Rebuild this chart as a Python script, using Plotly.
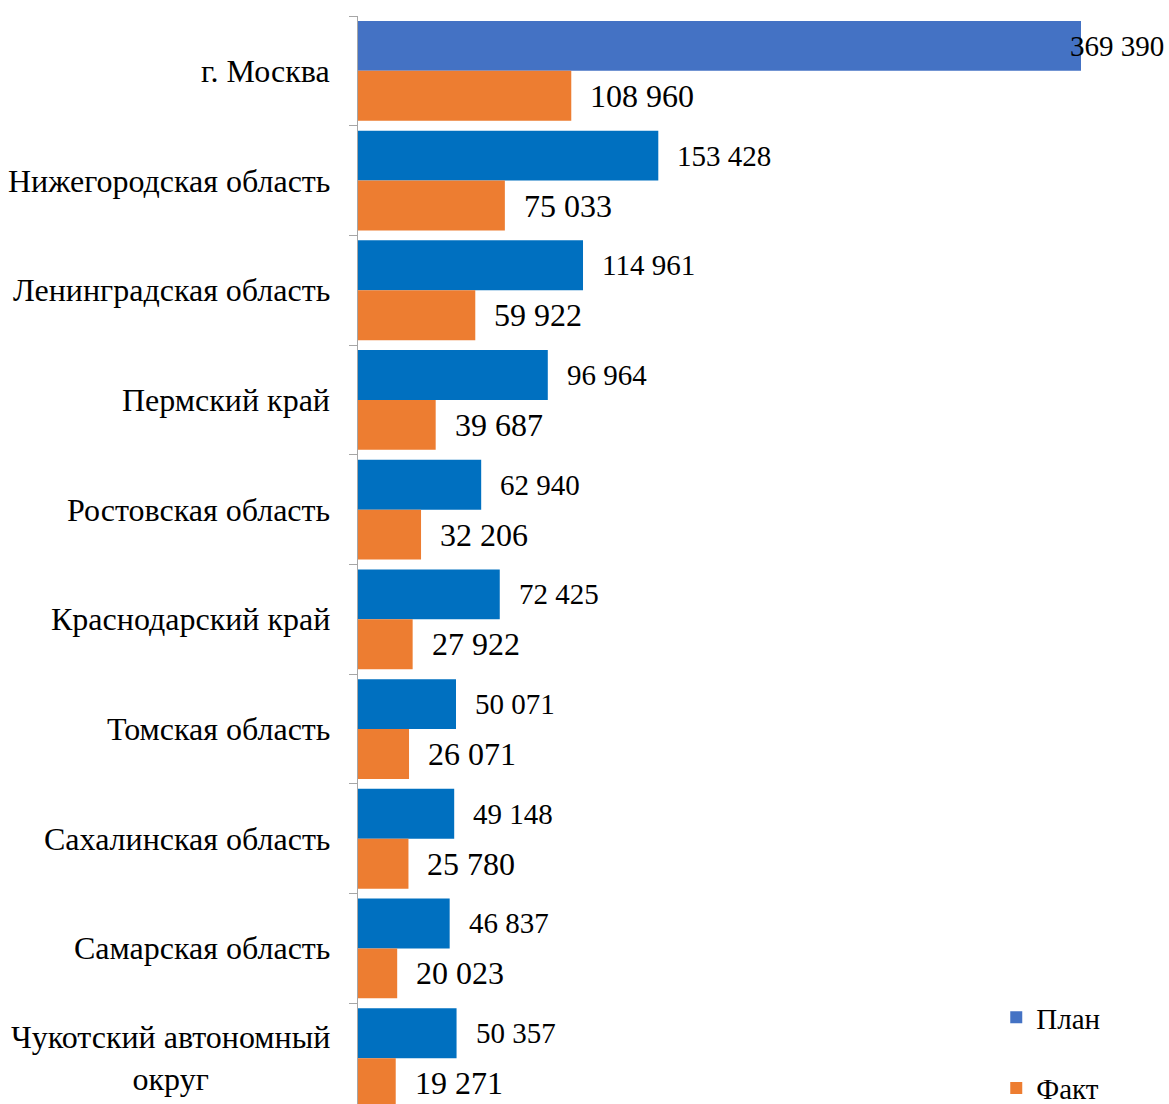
import plotly.graph_objects as go

categories = ["г. Москва", "Нижегородская область", "Ленинградская область", "Пермский край",
              "Ростовская область", "Краснодарский край", "Томская область",
              "Сахалинская область", "Самарская область", "Чукотский автономный<br>округ"]
plan = [369390, 153428, 114961, 96964, 62940, 72425, 50071, 49148, 46837, 50357]
fact = [108960, 75033, 59922, 39687, 32206, 27922, 26071, 25780, 20023, 19271]
series_names = ["План", "Факт"]

W, H = 1169, 1104
ML, MT = 358, 16
px_per_unit = 723 / 369390
plot_w = W - ML
XMAX = plot_w / px_per_unit
cat_px = 109.7
BARGAP = 0.09
half_off = (1 - BARGAP) / 4 * cat_px

FONT = "Liberation Serif, Times New Roman, serif"
plan_colors = ["#4472C4"] + ["#0070C0"] * (len(plan) - 1)

def fmt(v):
    return f"{v:,}".replace(",", " ")

fig = go.Figure()
fig.add_trace(go.Bar(y=categories, x=plan, orientation="h", name=series_names[0],
                     marker=dict(color=plan_colors, line=dict(width=0)), legendgroup="a"))
fig.add_trace(go.Bar(y=categories, x=fact, orientation="h", name=series_names[1],
                     marker=dict(color="#ED7D31", line=dict(width=0)), legendgroup="b"))

annotations = []
for vals, size, sign in [(plan, 29, -1), (fact, 32, 1)]:
    for c, v in zip(categories, vals):
        txt = fmt(v)
        est_w = size * (0.5 * (len(txt) - 1) + 0.25)
        end_px = v * px_per_unit
        if end_px + 18 + est_w > plot_w:
            ann = dict(x=XMAX, xanchor="right", xshift=-3)
        else:
            ann = dict(x=v, xanchor="left", xshift=17)
        ann.update(y=c, yshift=-sign * half_off, yanchor="middle", text=txt, showarrow=False,
                   font=dict(family=FONT, size=size, color="black"), xref="x", yref="y")
        annotations.append(ann)

for c in categories:
    annotations.append(dict(x=0, xref="paper", y=c, yref="y", xanchor="right", xshift=-26,
                            yanchor="middle", align="center", text=c, showarrow=False,
                            font=dict(family=FONT, size=32, color="black")))

bottom_unit = (len(categories) - 0.5) - ((MT + len(categories) * cat_px) - H) / cat_px

fig.update_layout(
    width=W, height=H, barmode="group", bargap=BARGAP, bargroupgap=0,
    margin=dict(l=ML, r=0, t=MT, b=0, autoexpand=False),
    plot_bgcolor="white", paper_bgcolor="white",
    xaxis=dict(range=[0, XMAX], visible=False, showgrid=False, zeroline=False),
    yaxis=dict(range=[bottom_unit, -0.5], showticklabels=False, ticks="outside", ticklen=8,
               tickson="boundaries", tickcolor="#A6A6A6", showline=True, linecolor="#A6A6A6",
               linewidth=1, showgrid=False, zeroline=False),
    legend=dict(x=0.787, xanchor="left", y=0.103, yanchor="top", traceorder="grouped",
                tracegroupgap=30, font=dict(family=FONT, size=29, color="black"),
                bgcolor="rgba(0,0,0,0)"),
    annotations=annotations,
)
fig.write_html("out.html", config={"displayModeBar": False},
               post_script="document.body.style.margin='0';document.body.style.overflow='hidden';")
